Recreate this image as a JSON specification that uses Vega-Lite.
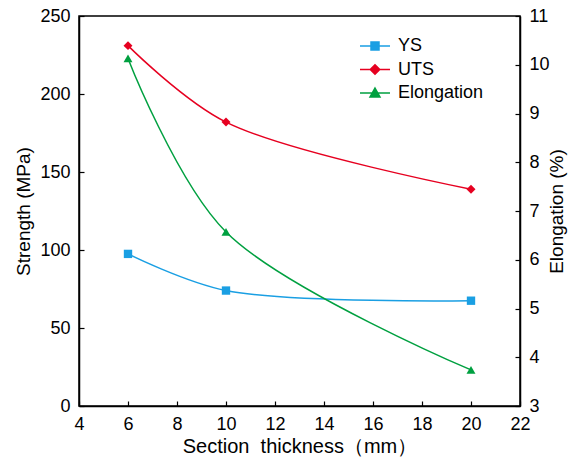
{
  "$schema": "https://vega.github.io/schema/vega-lite/v6.json",
  "autosize": "none",
  "width": 441,
  "height": 390,
  "padding": {"left": 79, "top": 16, "right": 52, "bottom": 53},
  "background": "white",
  "config": {
    "font": "Liberation Sans",
    "view": {"stroke": "black", "strokeWidth": 1.5},
    "axis": {
      "grid": false,
      "domainColor": "black",
      "domainWidth": 1.5,
      "tickColor": "black",
      "tickWidth": 1.2,
      "tickSize": -5,
      "labelFontSize": 18,
      "labelColor": "black",
      "titleFontSize": 19,
      "titleFontWeight": "normal",
      "titleColor": "black",
      "labelFont": "Liberation Sans",
      "titleFont": "Liberation Sans"
    }
  },
  "datasets": {
    "strength": [
      {"thickness": 6, "series": "YS", "value": 97.5},
      {"thickness": 10, "series": "YS", "value": 74},
      {"thickness": 20, "series": "YS", "value": 67.5},
      {"thickness": 6, "series": "UTS", "value": 231},
      {"thickness": 10, "series": "UTS", "value": 182},
      {"thickness": 20, "series": "UTS", "value": 139}
    ],
    "elong": [
      {"thickness": 6, "series": "Elongation", "value": 10.13},
      {"thickness": 10, "series": "Elongation", "value": 6.57},
      {"thickness": 20, "series": "Elongation", "value": 3.74}
    ]
  },
  "encoding": {
    "x": {
      "field": "thickness",
      "type": "quantitative",
      "scale": {"domain": [4, 22], "nice": false, "zero": false},
      "axis": {
        "values": [4, 6, 8, 10, 12, 14, 16, 18, 20, 22],
        "title": "Section\u00a0\u00a0thickness（mm）",
        "titleFontSize": 20,
        "labelPadding": 14,
        "titlePadding": 3,
        "labelFlush": false
      }
    }
  },
  "layer": [
    {
      "data": {"name": "strength"},
      "encoding": {
        "y": {
          "field": "value",
          "type": "quantitative",
          "scale": {"domain": [0, 250], "nice": false},
          "axis": {
            "orient": "left",
            "values": [0, 50, 100, 150, 200, 250],
            "title": "Strength (MPa)",
            "labelPadding": 14,
            "titleX": -56,
            "titleBaseline": "middle",
            "titleAngle": 270
          }
        }
      },
      "layer": [
        {
          "mark": {"type": "line", "interpolate": "catmull-rom", "strokeWidth": 1.5},
          "encoding": {
            "color": {
              "field": "series",
              "type": "nominal",
              "scale": {"domain": ["YS", "UTS", "Elongation"], "range": ["#1A9FE3", "#E60020", "#00A040"]},
              "legend": {
                "title": null,
                "orient": "none",
                "legendX": 287,
                "legendY": 21,
                "padding": 0,
                "labelFontSize": 18,
                "labelColor": "black",
                "labelFont": "Liberation Sans",
                "symbolSize": 100,
                "symbolStrokeWidth": 1.5,
                "labelOffset": 14,
                "rowPadding": 5.5,
                "values": ["YS", "UTS", "Elongation"],
                "encode": {
                  "symbols": {
                    "update": {
                      "shape": {"signal": "datum.value == 'YS' ? 'M-3,0H3M-0.8,-0.8H0.8V0.8H-0.8Z' : datum.value == 'UTS' ? 'M-3,0H3M0,-0.95L0.95,0L0,0.95L-0.95,0Z' : 'M-3,0H3M0,-1L1,0.8H-1Z'"},
                      "fill": {"signal": "datum.value == 'YS' ? '#1A9FE3' : datum.value == 'UTS' ? '#E60020' : '#00A040'"},
                      "stroke": {"signal": "datum.value == 'YS' ? '#1A9FE3' : datum.value == 'UTS' ? '#E60020' : '#00A040'"},
                      "opacity": {"value": 1}
                    }
                  }
                }
              }
            }
          }
        },
        {
          "transform": [{"filter": "datum.series == 'YS'"}],
          "mark": {"type": "point", "filled": true, "opacity": 1, "shape": "square", "size": 70, "color": "#1A9FE3"}
        },
        {
          "transform": [{"filter": "datum.series == 'UTS'"}],
          "mark": {"type": "point", "filled": true, "opacity": 1, "shape": "diamond", "size": 80, "color": "#E60020"}
        }
      ]
    },
    {
      "data": {"name": "elong"},
      "encoding": {
        "y": {
          "field": "value",
          "type": "quantitative",
          "scale": {"domain": [3, 11], "nice": false, "zero": false},
          "axis": {
            "orient": "right",
            "values": [3, 4, 5, 6, 7, 8, 9, 10, 11],
            "title": "Elongation (%)",
            "labelPadding": 14,
            "titleX": 36,
            "titleBaseline": "middle",
            "titleAngle": 270
          }
        }
      },
      "layer": [
        {
          "mark": {"type": "line", "interpolate": "catmull-rom", "strokeWidth": 1.5},
          "encoding": {
            "color": {
              "field": "series",
              "type": "nominal",
              "scale": {"domain": ["YS", "UTS", "Elongation"], "range": ["#1A9FE3", "#E60020", "#00A040"]}
            }
          }
        },
        {
          "mark": {"type": "point", "filled": true, "opacity": 1, "shape": "triangle-up", "size": 80, "color": "#00A040"}
        }
      ]
    }
  ],
  "resolve": {"scale": {"y": "independent"}}
}
